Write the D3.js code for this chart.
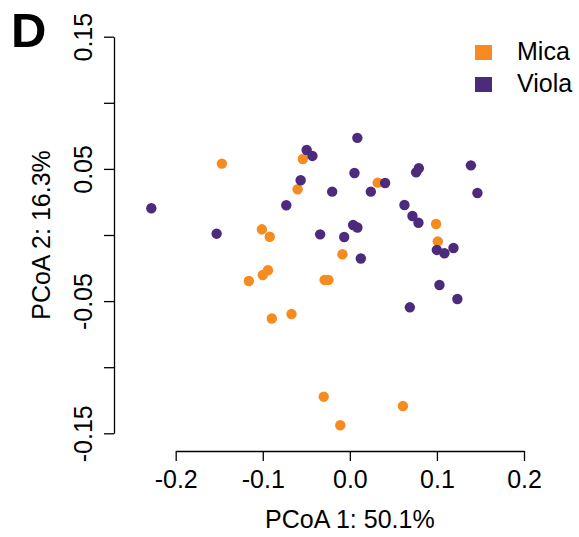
<!doctype html>
<html>
    <head>
        <meta charset="utf-8">
        <script src="https://cdn.jsdelivr.net/npm/d3@7"></script>
        <style>
            html, body {
                margin: 0;
                padding: 0;
                background: #fff;
            }
            svg text {
                font-family: "Liberation Sans", Arial, sans-serif;
            }
        </style>
    </head>
    <body>
        <div id="viz"></div>
        <script>
            // PCoA coordinates
            var groups = ["Mica", "Viola"];
            var colors = ["#f68b1f", "#4c2a7c"];

            var micaX = [-0.147, -0.054, -0.060, 0.032, -0.101, -0.092, -0.0085, -0.094, -0.100, -0.116,
                         -0.029, -0.0246, -0.0896, -0.067, 0.099, 0.101, -0.030, 0.061, -0.011];
            var micaY = [0.054, 0.0575, 0.0346, 0.0396, 0.0043, -0.0013, -0.0146, -0.0267, -0.0303, -0.0348,
                         -0.034, -0.034, -0.0632, -0.0598, 0.0083, -0.0048, -0.1223, -0.1294, -0.1439];

            var violaX = [-0.228, -0.153, -0.073, -0.0565, -0.0496, -0.043, 0.0086, 0.0053, -0.0203, -0.0341,
                          -0.0065, 0.0038, 0.0087, 0.0126, 0.0405, 0.0241, 0.0761, 0.0792, 0.139, 0.1465,
                          0.0627, 0.0719, 0.0788, 0.0999, 0.1086, 0.119, 0.1029, 0.1235, 0.0689];
            var violaY = [0.0202, 0.001, 0.0225, 0.0414, 0.0643, 0.0598, 0.0735, 0.0469, 0.0328, 0.0005,
                          -0.0015, 0.0076, 0.0057, -0.0178, 0.0393, 0.0328, 0.0474, 0.0505, 0.0527, 0.0318,
                          0.0227, 0.0144, 0.0093, -0.0113, -0.0138, -0.0098, -0.0378, -0.0484, -0.0547];

            var xTicks = [-0.2, -0.1, 0, 0.1, 0.2];
            var yTicks = [-0.15, -0.10, -0.05, 0, 0.05, 0.10, 0.15];
            var yLabelled = [-0.15, -0.05, 0.05, 0.15];

            var w = 579, h = 537;

            var svg = d3.select("#viz").append("svg")
                .attr("width", w)
                .attr("height", h);

            var x = d3.scaleLinear().domain([-0.2, 0.2]).range([175.7, 524]);
            var y = d3.scaleLinear().domain([-0.15, 0.15]).range([433.3, 36.7]);

            // x axis
            var gx = svg.append("g")
                .attr("transform", "translate(0,451)")
                .call(d3.axisBottom(x)
                    .tickValues(xTicks)
                    .tickSize(10)
                    .tickSizeOuter(0)
                    .tickFormat(function (d) { return d.toFixed(1); }));

            gx.selectAll("text")
                .attr("y", 37)
                .attr("dy", 0)
                .attr("fill", "#000")
                .style("font-size", "25px");

            // y axis
            var gy = svg.append("g")
                .attr("transform", "translate(114,0)")
                .call(d3.axisLeft(y)
                    .tickValues(yTicks)
                    .tickSize(10)
                    .tickSizeOuter(0)
                    .tickFormat(function (d) {
                        return yLabelled.some(function (v) { return Math.abs(v - d) < 1e-9; }) ? d.toFixed(2) : "";
                    }));

            gy.selectAll("text")
                .attr("transform", "rotate(-90)")
                .attr("x", 0)
                .attr("y", -22)
                .attr("dy", 0)
                .attr("text-anchor", "middle")
                .attr("fill", "#000")
                .style("font-size", "25px");

            svg.selectAll(".domain, .tick line")
                .attr("stroke", "#000")
                .attr("stroke-width", 1.3);

            // axis titles
            svg.append("text")
                .attr("x", x(0))
                .attr("y", 528)
                .attr("text-anchor", "middle")
                .style("font-size", "25px")
                .text("PCoA 1: 50.1%");

            svg.append("text")
                .attr("transform", "translate(50," + y(0) + ") rotate(-90)")
                .attr("text-anchor", "middle")
                .style("font-size", "25px")
                .text("PCoA 2: 16.3%");

            // panel letter
            svg.append("text")
                .attr("x", 11)
                .attr("y", 47)
                .style("font-size", "49px")
                .style("font-weight", "bold")
                .text("D");

            // points
            var series = [
                { name: groups[0], xs: micaX, ys: micaY, color: colors[0] },
                { name: groups[1], xs: violaX, ys: violaY, color: colors[1] }
            ];

            series.forEach(function (s) {
                svg.append("g").selectAll("circle")
                    .data(d3.range(s.xs.length))
                    .enter()
                    .append("circle")
                        .attr("cx", function (i) { return x(s.xs[i]); })
                        .attr("cy", function (i) { return y(s.ys[i]); })
                        .attr("r", 5.2)
                        .attr("fill", s.color);
            });

            // legend
            var legend = svg.append("g").selectAll("g")
                .data(series)
                .enter()
                .append("g")
                    .attr("transform", function (d, i) { return "translate(475," + (45 + i * 32) + ")"; });

            legend.append("rect")
                .attr("width", 17)
                .attr("height", 15)
                .attr("fill", function (d) { return d.color; });

            legend.append("text")
                .attr("x", 42)
                .attr("y", 15)
                .style("font-size", "25px")
                .text(function (d) { return d.name; });
        </script>
    </body>
</html>
